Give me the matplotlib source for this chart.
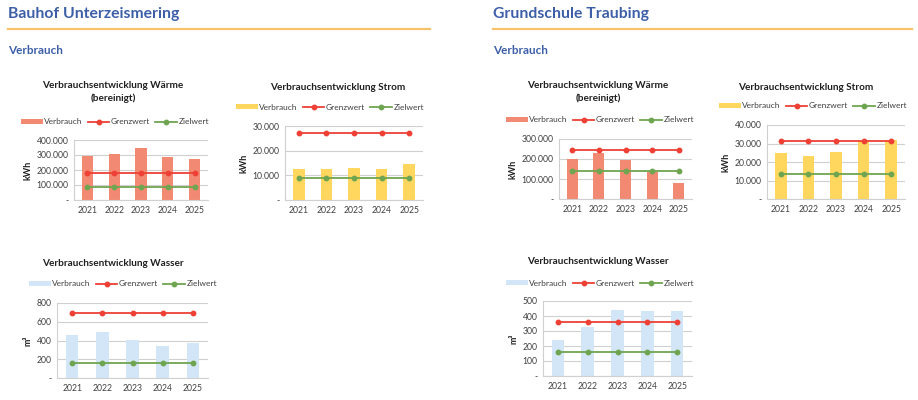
"""
Verbrauchsentwicklung: Bauhof Unterzeismering / Grundschule Traubing
"""

import matplotlib
matplotlib.use('Agg')
import matplotlib.pyplot as plt
from matplotlib.lines import Line2D
from matplotlib.patches import Patch
from matplotlib.ticker import FuncFormatter, MultipleLocator

plt.rcParams['font.family'] = ['Lato', 'DejaVu Sans']

years = ['2021', '2022', '2023', '2024', '2025']

# Bauhof Unterzeismering
bauhof_waerme = [296000, 310000, 347000, 286000, 272000]
bauhof_waerme_grenz = [180000] * 5
bauhof_waerme_ziel = [86000] * 5
bauhof_strom = [12500, 12700, 12800, 12700, 14700]
bauhof_strom_grenz = [27300] * 5
bauhof_strom_ziel = [8900] * 5
bauhof_wasser = [462, 487, 409, 345, 373]
bauhof_wasser_grenz = [690] * 5
bauhof_wasser_ziel = [164] * 5

# Grundschule Traubing
schule_waerme = [198000, 230000, 195000, 137000, 78000]
schule_waerme_grenz = [243000] * 5
schule_waerme_ziel = [142000] * 5
schule_strom = [24800, 23200, 25200, 31300, 31800]
schule_strom_grenz = [31100] * 5
schule_strom_ziel = [13400] * 5
schule_wasser = [243, 324, 440, 431, 433]
schule_wasser_grenz = [362] * 5
schule_wasser_ziel = [161] * 5

W, H = 918, 400
BLUE = '#3D5FA8'
ORANGE = '#F8C26A'
RED = '#EE4035'
GREEN = '#6FA550'
COL_WAERME = '#F28A73'
COL_STROM = '#FFD75E'
COL_WASSER = '#D3E6F7'
GRID = '#D0D0D0'
TXT = '#404040'


def px_axes(fig, x0, y0, x1, y1):
    return fig.add_axes([x0 / W, 1 - y1 / H, (x1 - x0) / W, (y1 - y0) / H])


def thousands(v, pos):
    if v == 0:
        return '-'
    return f'{int(v):,}'.replace(',', '.')


def draw_chart(fig, box, values, grenz, ziel, color, ymax, step, unit,
               title, title_xy, legend_xy):
    ax = px_axes(fig, *box)
    x = range(len(years))
    ax.bar(x, values, width=0.42, color=color, zorder=2)
    ax.plot(x, grenz, color=RED, marker='o', markersize=3.2, linewidth=1.3, zorder=3)
    ax.plot(x, ziel, color=GREEN, marker='o', markersize=3.2, linewidth=1.3, zorder=3)

    ax.set_xlim(-0.5, len(years) - 0.5)
    ax.set_ylim(0, ymax)
    ax.yaxis.set_major_locator(MultipleLocator(step))
    ax.yaxis.set_major_formatter(FuncFormatter(thousands))
    ax.set_xticks(list(x))
    ax.set_xticklabels(years)
    ax.tick_params(axis='both', length=0, labelsize=6.2, colors=TXT, pad=4)
    ax.grid(axis='y', color=GRID, linewidth=0.8, zorder=0)
    for side in ['top', 'right']:
        ax.spines[side].set_visible(False)
    ax.spines['left'].set_color(GRID)
    ax.spines['bottom'].set_color(GRID)
    ax.set_ylabel(unit, fontsize=6.5, fontweight='bold', color='#202020', labelpad=3)

    fig.text(title_xy[0] / W, 1 - title_xy[1] / H, title, ha='center', va='center',
             fontsize=7.2, fontweight='bold', color='#202020', linespacing=1.5)

    handles = [Patch(facecolor=color, edgecolor='none'),
               Line2D([], [], color=RED, marker='o', markersize=3.2, linewidth=1.3),
               Line2D([], [], color=GREEN, marker='o', markersize=3.2, linewidth=1.3)]
    fig.legend(handles, ['Verbrauch', 'Grenzwert', 'Zielwert'],
               loc='center', bbox_to_anchor=(legend_xy[0] / W, 1 - legend_xy[1] / H),
               ncol=3, frameon=False, fontsize=6, labelcolor=TXT,
               handlelength=2.6, handleheight=0.6, handletextpad=0.2, columnspacing=0.6)
    return ax


def main():
    fig = plt.figure(figsize=(W / 100, H / 100), dpi=100)

    # headers
    for x0, x1, name in [(8, 430, 'Bauhof Unterzeismering'), (493, 912, 'Grundschule Traubing')]:
        fig.text(x0 / W, 1 - 14 / H, name, ha='left', va='center',
                 fontsize=11.3, fontweight='bold', color=BLUE)
        fig.add_artist(Line2D([x0 / W, x1 / W], [1 - 29 / H, 1 - 29 / H],
                              color=ORANGE, linewidth=1.6))
        fig.text(x0 / W, 1 - 51 / H, 'Verbrauch', ha='left', va='center',
                 fontsize=8.5, fontweight='bold', color=BLUE)

    waerme_title = 'Verbrauchsentwicklung Wärme\n(bereinigt)'

    draw_chart(fig, (74, 140, 208, 200), bauhof_waerme, bauhof_waerme_grenz, bauhof_waerme_ziel,
               COL_WAERME, 400000, 100000, 'kWh', waerme_title, (113, 92), (115, 122))
    draw_chart(fig, (285, 126, 423, 200), bauhof_strom, bauhof_strom_grenz, bauhof_strom_ziel,
               COL_STROM, 30000, 10000, 'kWh', 'Verbrauchsentwicklung Strom', (338, 87), (330, 107))
    draw_chart(fig, (57, 303, 208, 378), bauhof_wasser, bauhof_wasser_grenz, bauhof_wasser_ziel,
               COL_WASSER, 800, 200, 'm³', 'Verbrauchsentwicklung Wasser', (113, 263), (123, 284))

    draw_chart(fig, (559, 139, 692, 199), schule_waerme, schule_waerme_grenz, schule_waerme_ziel,
               COL_WAERME, 300000, 100000, 'kWh', waerme_title, (598, 92), (600, 120))
    draw_chart(fig, (767, 125, 905, 199), schule_strom, schule_strom_grenz, schule_strom_ziel,
               COL_STROM, 40000, 10000, 'kWh', 'Verbrauchsentwicklung Strom', (806, 87), (813, 106))
    draw_chart(fig, (543, 301, 692, 376), schule_wasser, schule_wasser_grenz, schule_wasser_ziel,
               COL_WASSER, 500, 100, 'm³', 'Verbrauchsentwicklung Wasser', (598, 261), (600, 283))

    fig.savefig('out.png', dpi=100)
    plt.close(fig)


if __name__ == '__main__':
    main()
